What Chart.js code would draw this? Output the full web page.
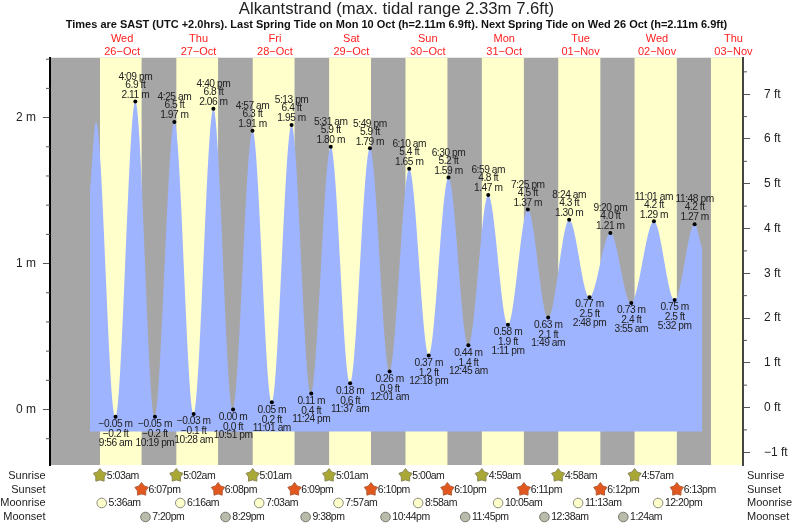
<!DOCTYPE html>
<html>
<head>
<meta charset="utf-8">
<title>Alkantstrand tide chart</title>
<script src="https://cdn.jsdelivr.net/npm/chart.js@4"></script>
<style>
  html, body { margin: 0; padding: 0; background: #fff; }
  canvas { display: block; }
</style>
</head>
<body>
<canvas id="tide-chart" width="793" height="525"></canvas>
<script>
const titleText = 'Alkantstrand (max. tidal range 2.33m 7.6ft)';
const subtitleText = 'Times are SAST (UTC +2.0hrs). Last Spring Tide on Mon 10 Oct (h=2.11m 6.9ft). Next Spring Tide on Wed 26 Oct (h=2.11m 6.9ft)';

const dayNames = ['Wed', 'Thu', 'Fri', 'Sat', 'Sun', 'Mon', 'Tue', 'Wed', 'Thu'];
const dayDates = ['26−Oct', '27−Oct', '28−Oct', '29−Oct', '30−Oct', '31−Oct', '01−Nov', '02−Nov', '03−Nov'];

// Tide turning points, day = days after 26 Oct. First and last rows are where the curve is cut off (no label)
const tideDays = [0, 0, 0, 0, 0, 1, 1, 1, 1, 2, 2, 2, 2, 3, 3, 3, 4, 4, 4, 4, 5, 5, 5, 5, 6, 6, 6, 6, 7, 7, 7, 7, 8];
const tideClock = ['1:55 am', '3:48 am', '9:56 am', '4:09 pm', '10:19 pm', '4:25 am', '10:28 am', '4:40 pm', '10:51 pm',
  '4:57 am', '11:01 am', '5:13 pm', '11:24 pm', '5:31 am', '11:37 am', '5:49 pm', '12:01 am', '6:10 am', '12:18 pm', '6:30 pm',
  '12:45 am', '6:59 am', '1:11 pm', '7:25 pm', '1:49 am', '8:24 am', '2:48 pm', '9:20 pm', '3:55 am', '11:01 am', '5:32 pm', '11:48 pm', '2:12 am'];
const tideMetres = [1.5, 1.97, -0.05, 2.11, -0.05, 1.97, -0.03, 2.06, 0.00, 1.91, 0.05, 1.95, 0.11, 1.80, 0.18, 1.79,
  0.26, 1.65, 0.37, 1.59, 0.44, 1.47, 0.58, 1.37, 0.63, 1.30, 0.77, 1.21, 0.73, 1.29, 0.75, 1.27, 1.10];
const tideFeet = [null, null, -0.2, 6.9, -0.2, 6.5, -0.1, 6.8, 0.0, 6.3, 0.2, 6.4, 0.4, 5.9, 0.6, 5.9,
  0.9, 5.4, 1.2, 5.2, 1.4, 4.8, 1.9, 4.5, 2.1, 4.3, 2.5, 4.0, 2.4, 4.2, 2.5, 4.2, null];
const waterFloor = -0.15;

const sunriseDays = [0, 1, 2, 3, 4, 5, 6, 7];
const sunriseClock = ['5:03am', '5:02am', '5:01am', '5:01am', '5:00am', '4:59am', '4:58am', '4:57am'];
const sunsetDays = [0, 1, 2, 3, 4, 5, 6, 7];
const sunsetClock = ['6:07pm', '6:08pm', '6:09pm', '6:10pm', '6:10pm', '6:11pm', '6:12pm', '6:13pm'];
const moonriseDays = [0, 1, 2, 3, 4, 5, 6, 7];
const moonriseClock = ['5:36am', '6:16am', '7:03am', '7:57am', '8:58am', '10:05am', '11:13am', '12:20pm'];
const moonsetDays = [0, 1, 2, 3, 4, 6, 7];
const moonsetClock = ['7:20pm', '8:29pm', '9:38pm', '10:44pm', '11:45pm', '12:38am', '1:24am'];
const lastSunrise = [8, '4:56am']; // off the table, only the band edge shows

const metreTicks = [0, 1, 2];
const metreMinorTicks = [-0.2, 0.2, 0.4, 0.6, 0.8, 1.2, 1.4, 1.6, 1.8, 2.2, 2.4];
const feetTicks = [-1, 0, 1, 2, 3, 4, 5, 6, 7];
const feetMinorTicks = [-0.5, 0.5, 1.5, 2.5, 3.5, 4.5, 5.5, 6.5, 7.5];

const FONT = '"Liberation Sans", Arial, sans-serif';
const NIGHT = '#a6a6a6';
const DAY = '#ffffcc';
const WATER = '#9fb4ff';
const INK = '#222';

// "4:09 pm" on day n -> hours after midnight 26 Oct
function hoursOf(day, clock) {
  const m = clock.match(/(\d+):(\d+)\s*(am|pm)/);
  const h = (parseInt(m[1]) % 12) + (m[3] === 'pm' ? 12 : 0);
  return day * 24 + h + parseInt(m[2]) / 60;
}

const tideHours = tideClock.map((c, i) => hoursOf(tideDays[i], c));
const sunriseHours = sunriseClock.map((c, i) => hoursOf(sunriseDays[i], c));
const sunsetHours = sunsetClock.map((c, i) => hoursOf(sunsetDays[i], c));

function minus(text) {
  return String(text).replace('-', '−');
}

function drawStar(ctx, x, y, fill, stroke) {
  ctx.beginPath();
  for (let i = 0; i < 10; i++) {
    const r = i % 2 === 0 ? 7 : 4.4;
    const a = -Math.PI / 2 + i * Math.PI / 5;
    ctx.lineTo(x + r * Math.cos(a), y + r * Math.sin(a));
  }
  ctx.closePath();
  ctx.fillStyle = fill;
  ctx.fill();
  ctx.lineWidth = 1;
  ctx.strokeStyle = stroke;
  ctx.stroke();
}

function drawMoon(ctx, x, y, fill, stroke) {
  ctx.beginPath();
  ctx.arc(x, y, 4.8, 0, Math.PI * 2);
  ctx.fillStyle = fill;
  ctx.fill();
  ctx.lineWidth = 1;
  ctx.strokeStyle = stroke;
  ctx.stroke();
}

// day / night bands behind everything
const bandsPlugin = {
  id: 'bands',
  beforeDraw(chart) {
    const { ctx, chartArea: area, scales: { x } } = chart;
    ctx.save();
    ctx.fillStyle = NIGHT;
    ctx.fillRect(area.left, area.top, area.width, area.height);
    ctx.fillStyle = DAY;
    sunriseHours.forEach((rise, i) => {
      const left = x.getPixelForValue(rise);
      const right = x.getPixelForValue(sunsetHours[i]);
      ctx.fillRect(left, area.top, right - left, area.height);
    });
    const lastLeft = x.getPixelForValue(hoursOf(lastSunrise[0], lastSunrise[1]));
    ctx.fillRect(lastLeft, area.top, area.right - lastLeft, area.height);
    ctx.restore();
  }
};

// three line height/time labels at each turning point
const tideLabelsPlugin = {
  id: 'tideLabels',
  afterDatasetsDraw(chart) {
    const { ctx, scales: { x, y } } = chart;
    ctx.save();
    ctx.font = '10.2px ' + FONT;
    ctx.letterSpacing = '-0.45px';
    ctx.fillStyle = INK;
    ctx.textAlign = 'center';
    ctx.textBaseline = 'middle';
    tideHours.forEach((t, i) => {
      if (tideFeet[i] === null) return;
      const px = x.getPixelForValue(t);
      const py = y.getPixelForValue(tideMetres[i]);
      const m = minus(tideMetres[i].toFixed(2)) + ' m';
      const ft = minus(tideFeet[i].toFixed(1)) + ' ft';
      const high = tideMetres[i] > tideMetres[i - 1];
      if (high) {
        ctx.fillText(m, px, py - 6.5);
        ctx.fillText(ft, px, py - 16.5);
        ctx.fillText(tideClock[i], px, py - 24.5);
      } else {
        ctx.fillText(m, px, py + 7.5);
        ctx.fillText(ft, px, py + 17.5);
        ctx.fillText(tideClock[i], px, py + 26);
      }
    });
    ctx.restore();
  }
};

// short ticks and the sun / moon rows under the plot
const extrasPlugin = {
  id: 'extras',
  afterDraw(chart) {
    const { ctx, chartArea: area, scales: { x, y, yFeet } } = chart;
    ctx.save();
    ctx.strokeStyle = '#555';
    ctx.lineWidth = 1;
    ctx.beginPath();
    metreMinorTicks.forEach(v => {
      const py = y.getPixelForValue(v);
      ctx.moveTo(area.left - 4, py);
      ctx.lineTo(area.left, py);
    });
    feetMinorTicks.forEach(v => {
      const py = yFeet.getPixelForValue(v);
      ctx.moveTo(area.right, py);
      ctx.lineTo(area.right + 4, py);
    });
    ctx.stroke();

    const rows = [
      { name: 'Sunrise', y: 476, days: sunriseDays, clock: sunriseClock, mark: (px, py) => drawStar(ctx, px, py - 0.5, '#a9a834', '#8c8a5a') },
      { name: 'Sunset', y: 490, days: sunsetDays, clock: sunsetClock, mark: (px, py) => drawStar(ctx, px, py - 0.5, '#e2571e', '#b0603a') },
      { name: 'Moonrise', y: 503, days: moonriseDays, clock: moonriseClock, mark: (px, py) => drawMoon(ctx, px, py, '#ffffcc', '#8a8a80') },
      { name: 'Moonset', y: 517, days: moonsetDays, clock: moonsetClock, mark: (px, py) => drawMoon(ctx, px, py, '#b9bbab', '#77786e') }
    ];
    ctx.textBaseline = 'middle';
    rows.forEach(row => {
      ctx.font = '11px ' + FONT;
      ctx.letterSpacing = '0px';
      ctx.fillStyle = INK;
      ctx.textAlign = 'right';
      ctx.fillText(row.name, 45.5, row.y);
      ctx.textAlign = 'left';
      ctx.fillText(row.name, 747, row.y);
      ctx.font = '10.5px ' + FONT;
      ctx.letterSpacing = '-0.5px';
      row.clock.forEach((c, i) => {
        const px = x.getPixelForValue(hoursOf(row.days[i], c));
        row.mark(px, row.y);
        ctx.fillStyle = INK;
        ctx.fillText(c, px + 6.8, row.y + 0.5);
      });
    });
    ctx.restore();
  }
};

new Chart(document.getElementById('tide-chart').getContext('2d'), {
  type: 'line',
  data: {
    datasets: [{
      data: tideHours.map((t, i) => ({ x: t, y: tideMetres[i] })),
      fill: { value: waterFloor },
      backgroundColor: WATER,
      borderWidth: 0,
      cubicInterpolationMode: 'monotone',
      pointBackgroundColor: '#000',
      pointBorderWidth: 0,
      pointRadius: tideFeet.map(f => (f === null ? 0 : 2))
    }]
  },
  options: {
    responsive: false,
    animation: false,
    layout: { padding: { left: 0, right: 0, top: 0, bottom: 60 } },
    plugins: {
      legend: { display: false },
      tooltip: { enabled: false },
      title: {
        display: true,
        text: titleText,
        color: INK,
        font: { family: FONT, size: 16.7, weight: 'normal', lineHeight: 1.05 },
        padding: { top: 1, bottom: 0 }
      },
      subtitle: {
        display: true,
        text: subtitleText,
        color: '#111',
        font: { family: FONT, size: 11, weight: 'bold', lineHeight: 1.2 },
        padding: { top: 0, bottom: 0 }
      }
    },
    scales: {
      x: {
        type: 'linear',
        position: 'top',
        min: -10.65,
        max: 207,
        afterFit(axis) { axis.height = 26; },
        afterBuildTicks(axis) { axis.ticks = dayNames.map((_, i) => ({ value: i * 24 + 12 })); },
        border: { display: false },
        grid: { drawOnChartArea: false, drawTicks: false },
        ticks: {
          autoSkip: false,
          maxRotation: 0,
          padding: 0,
          color: '#ff2020',
          font: { family: FONT, size: 11, lineHeight: 1.12 },
          callback: (v, i) => [dayNames[i], dayDates[i]]
        }
      },
      y: {
        position: 'left',
        min: -0.38,
        max: 2.41,
        afterFit(axis) { axis.width = 50; },
        afterBuildTicks(axis) { axis.ticks = metreTicks.map(value => ({ value })); },
        border: { display: true, color: '#000', width: 2 },
        grid: { drawOnChartArea: false, tickLength: 7, tickColor: '#555' },
        ticks: {
          padding: 7,
          color: INK,
          font: { family: FONT, size: 12 },
          callback: v => v + ' m'
        }
      },
      yFeet: {
        position: 'right',
        min: -1.284,
        max: 7.815,
        afterFit(axis) { axis.width = 50; },
        afterBuildTicks(axis) { axis.ticks = feetTicks.map(value => ({ value })); },
        border: { display: true, color: '#444', width: 2 },
        grid: { drawOnChartArea: false, tickLength: 7, tickColor: '#555' },
        ticks: {
          padding: 14,
          color: INK,
          font: { family: FONT, size: 12 },
          callback: v => minus(v) + ' ft'
        }
      }
    }
  },
  plugins: [bandsPlugin, tideLabelsPlugin, extrasPlugin]
});
</script>
</body>
</html>
